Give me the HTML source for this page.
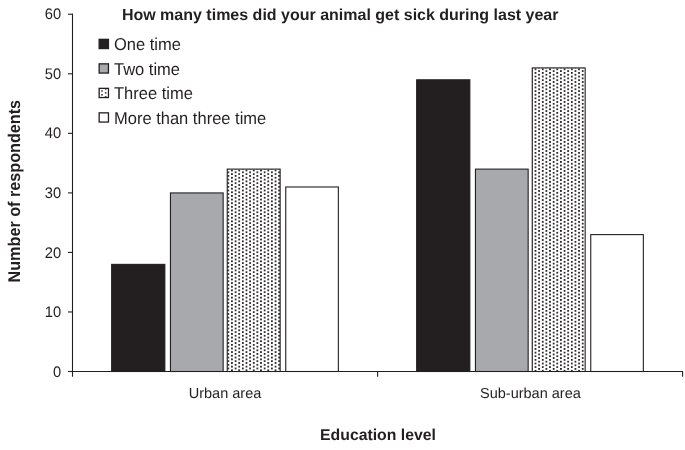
<!DOCTYPE html>
<html><head><meta charset="utf-8"><style>
html,body{margin:0;padding:0;background:#fff;}
body{width:685px;height:450px;overflow:hidden;}
svg{display:block;will-change:transform;text-rendering:geometricPrecision;font-family:"Liberation Sans",sans-serif;}
</style></head><body>
<svg width="685" height="450" viewBox="0 0 685 450">
<defs>
<pattern id="dotsU" patternUnits="userSpaceOnUse" x="227.425" y="171.425" width="7.264" height="3.632"><rect x="0" y="0" width="7.264" height="3.632" fill="#fff"/><rect x="0" y="0" width="1.75" height="1.75" fill="#231f20"/><rect x="3.632" y="1.816" width="1.75" height="1.75" fill="#231f20"/></pattern>
<pattern id="dotsS" patternUnits="userSpaceOnUse" x="538.225" y="70.225" width="7.264" height="3.632"><rect x="0" y="0" width="7.264" height="3.632" fill="#fff"/><rect x="0" y="0" width="1.75" height="1.75" fill="#231f20"/><rect x="3.632" y="1.816" width="1.75" height="1.75" fill="#231f20"/></pattern>
<pattern id="dots2" patternUnits="userSpaceOnUse" x="101.25" y="90.25" width="7.2" height="3.8"><rect x="0" y="0" width="7.2" height="3.8" fill="#fff"/><rect x="0" y="0" width="1.5" height="1.5" fill="#231f20"/><rect x="3.6" y="1.9" width="1.5" height="1.5" fill="#231f20"/></pattern>
</defs>
<rect width="685" height="450" fill="#fff"/>
<rect x="111.65" y="264.38" width="53.20" height="107.12" fill="#231f20" stroke="#231f20" stroke-width="1.1"/><rect x="170.45" y="192.93" width="52.70" height="178.57" fill="#a7a9ac" stroke="#231f20" stroke-width="1.1"/><rect x="227.25" y="169.11" width="52.90" height="202.39" fill="url(#dotsU)" stroke="#231f20" stroke-width="1.1"/><rect x="285.75" y="186.98" width="52.60" height="184.52" fill="#ffffff" stroke="#231f20" stroke-width="1.1"/><rect x="416.65" y="79.80" width="53.20" height="291.70" fill="#231f20" stroke="#231f20" stroke-width="1.1"/><rect x="475.45" y="169.11" width="52.70" height="202.39" fill="#a7a9ac" stroke="#231f20" stroke-width="1.1"/><rect x="532.25" y="67.90" width="52.90" height="303.60" fill="url(#dotsS)" stroke="#231f20" stroke-width="1.1"/><rect x="590.75" y="234.61" width="52.60" height="136.89" fill="#ffffff" stroke="#231f20" stroke-width="1.1"/>
<g stroke="#231f20" stroke-width="1.1" fill="none">
<line x1="72.5" y1="13.7" x2="72.5" y2="376.7"/>
<line x1="68" y1="371.5" x2="683" y2="371.5"/>
<line x1="377.6" y1="371.5" x2="377.6" y2="376.7"/>
<line x1="682.6" y1="371.5" x2="682.6" y2="376.7"/>
<line x1="68" y1="371.50" x2="73" y2="371.50"/><line x1="68" y1="311.96" x2="73" y2="311.96"/><line x1="68" y1="252.42" x2="73" y2="252.42"/><line x1="68" y1="192.88" x2="73" y2="192.88"/><line x1="68" y1="133.34" x2="73" y2="133.34"/><line x1="68" y1="73.80" x2="73" y2="73.80"/><line x1="68" y1="14.26" x2="73" y2="14.26"/>
</g>
<g fill="#231f20">
<text transform="translate(61.20,376.60) scale(1,1.045)" font-size="14.7" text-anchor="end">0</text><text transform="translate(61.20,317.06) scale(1,1.045)" font-size="14.7" text-anchor="end">10</text><text transform="translate(61.20,257.52) scale(1,1.045)" font-size="14.7" text-anchor="end">20</text><text transform="translate(61.20,197.98) scale(1,1.045)" font-size="14.7" text-anchor="end">30</text><text transform="translate(61.20,138.44) scale(1,1.045)" font-size="14.7" text-anchor="end">40</text><text transform="translate(61.20,78.90) scale(1,1.045)" font-size="14.7" text-anchor="end">50</text><text transform="translate(61.20,19.36) scale(1,1.045)" font-size="14.7" text-anchor="end">60</text>
<text transform="translate(225.00,398.20) scale(1,1.0)" font-size="14.5" text-anchor="middle">Urban area</text>
<text transform="translate(530.40,398.20) scale(1,1.0)" font-size="14.5" text-anchor="middle">Sub-urban area</text>
<rect x="99.15" y="39.35" width="9.3" height="9.2" fill="#231f20" stroke="#231f20" stroke-width="1.3"/><text transform="translate(114.00,50.40) scale(1,1.04)" font-size="16.5">One time</text><rect x="99.15" y="63.85" width="9.3" height="9.2" fill="#a7a9ac" stroke="#231f20" stroke-width="1.3"/><text transform="translate(114.00,74.90) scale(1,1.04)" font-size="16.5">Two time</text><rect x="99.15" y="88.35" width="9.3" height="9.2" fill="url(#dots2)" stroke="#231f20" stroke-width="1.3"/><text transform="translate(114.00,99.40) scale(1,1.04)" font-size="16.5">Three time</text><rect x="99.15" y="112.85" width="9.3" height="9.2" fill="#ffffff" stroke="#231f20" stroke-width="1.3"/><text transform="translate(114.00,123.90) scale(1,1.04)" font-size="16.5">More than three time</text>
<text transform="translate(121.90,20.00) scale(1,1.0)" font-size="16" font-weight="bold">How many times did your animal get sick during last year</text>
<text transform="translate(378.00,440.30) scale(1,1.0)" font-size="15.8" text-anchor="middle" font-weight="bold">Education level</text>
<text transform="translate(20.30,191.20) rotate(-90) scale(1,1.05)" font-size="16.2" text-anchor="middle" font-weight="bold">Number of respondents</text>
</g>
</svg>
</body></html>
